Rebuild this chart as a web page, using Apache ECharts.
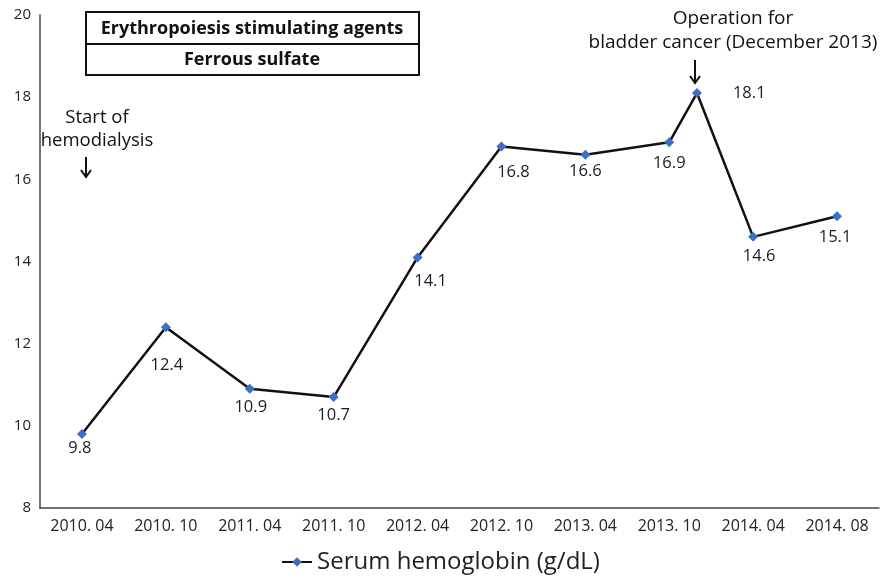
<!DOCTYPE html>
<html>
<head>
<meta charset="utf-8">
<title>Serum hemoglobin</title>
<script src="https://cdn.jsdelivr.net/npm/echarts@6/dist/echarts.min.js"></script>
<style>
  html, body { margin: 0; padding: 0; background: #fff; }
  #main { width: 881px; height: 579px; }
</style>
</head>
<body>
<div id="main"></div>
<script>
// x axis tick labels
var categories = ['2010. 04', '2010. 10', '2011. 04', '2011. 10', '2012. 04',
                  '2012. 10', '2013. 04', '2013. 10', '2014. 04', '2014. 08'];
// where each measurement sits along the category slots (Dec 2013 falls between 2013.10 and 2014.04)
var pointSlot = [0, 1, 2, 3, 4, 5, 6, 7, 7.33, 8, 9];
// serum hemoglobin g/dL
var hemoglobin = [9.8, 12.4, 10.9, 10.7, 14.1, 16.8, 16.6, 16.9, 18.1, 14.6, 15.1];
var yTicks = [8, 10, 12, 14, 16, 18, 20];

// hand nudges for data labels, like the original
var labelNudge = [[-2, -4], [1, 20], [1, 0], [0, 0], [13, 5], [12, 7], [0, -2], [0, 2], [0, 0], [6, 1], [-2, 2]];

var font = '"Open Sans", "Noto Sans", sans-serif';

var seriesData = [];
for (var i = 0; i < hemoglobin.length; i++) {
  var item = { value: [pointSlot[i], hemoglobin[i]], label: { offset: labelNudge[i] } };
  if (i == 8) {
    item.label = { position: 'right', distance: 31, offset: [0, 0] };
  }
  seriesData.push(item);
}

function arrow(x, y1, y2) {
  return [
    { type: 'line', shape: { x1: x, y1: y1, x2: x, y2: y2 }, style: { stroke: '#111', lineWidth: 2 } },
    { type: 'polyline', shape: { points: [[x - 5, y2 - 7], [x, y2], [x + 5, y2 - 7]] }, style: { stroke: '#111', lineWidth: 2, fill: null } }
  ];
}

var chart = echarts.init(document.getElementById('main'));
chart.setOption({
  animation: false,
  textStyle: { fontFamily: font },
  grid: { left: 40, right: 2, top: 15, bottom: 71 },
  legend: {
    bottom: 0,
    left: 'center',
    itemWidth: 30,
    itemHeight: 12,
    textStyle: { fontSize: 24, color: '#222', fontFamily: font },
    data: ['Serum hemoglobin (g/dL)']
  },
  xAxis: [{
    type: 'category',
    data: categories,
    boundaryGap: true,
    axisLine: { lineStyle: { color: '#444', width: 1.5 } },
    axisTick: { alignWithLabel: true, inside: true, length: 5, lineStyle: { color: '#444' } },
    axisLabel: { fontSize: 16, color: '#222', margin: 10, fontFamily: font },
    splitLine: { show: false }
  }, {
    type: 'value',
    min: -0.5,
    max: 9.5,
    show: false
  }],
  yAxis: {
    type: 'value',
    min: yTicks[0],
    max: yTicks[yTicks.length - 1],
    interval: 2,
    axisLine: { show: true, onZero: false, lineStyle: { color: '#444', width: 1.5 } },
    axisTick: { show: false },
    axisLabel: { fontSize: 15, color: '#222', margin: 9, fontFamily: font },
    splitLine: { show: false }
  },
  series: [{
    name: 'Serum hemoglobin (g/dL)',
    type: 'line',
    xAxisIndex: 1,
    data: seriesData,
    symbol: 'diamond',
    symbolSize: 10,
    lineStyle: { color: '#111', width: 2.5 },
    itemStyle: { color: '#3D6FC0' },
    label: {
      show: true,
      position: 'bottom',
      distance: 5,
      fontSize: 16.5,
      color: '#1a1a2a',
      fontFamily: font,
      formatter: function (p) { return p.value[1].toFixed(1); }
    }
  }],
  graphic: [
    { type: 'rect', shape: { x: 86, y: 12, width: 333, height: 63 }, style: { fill: '#fff', stroke: '#111', lineWidth: 2 } },
    { type: 'line', shape: { x1: 86, y1: 44, x2: 419, y2: 44 }, style: { stroke: '#111', lineWidth: 2 } },
    { type: 'text', x: 252, y: 29, style: { text: 'Erythropoiesis stimulating agents', font: 'bold 18px ' + font, fill: '#111', align: 'center', verticalAlign: 'middle' } },
    { type: 'text', x: 252, y: 60, style: { text: 'Ferrous sulfate', font: 'bold 18px ' + font, fill: '#111', align: 'center', verticalAlign: 'middle' } },
    { type: 'text', x: 97, y: 129, style: { text: 'Start of\nhemodialysis', font: '18.5px ' + font, fill: '#111', align: 'center', verticalAlign: 'middle', lineHeight: 23 } },
    { type: 'text', x: 733, y: 31, style: { text: 'Operation for\nbladder cancer (December 2013)', font: '19px ' + font, fill: '#111', align: 'center', verticalAlign: 'middle', lineHeight: 24 } }
  ].concat(arrow(86, 157, 177)).concat(arrow(695, 60, 83))
});
</script>
</body>
</html>
